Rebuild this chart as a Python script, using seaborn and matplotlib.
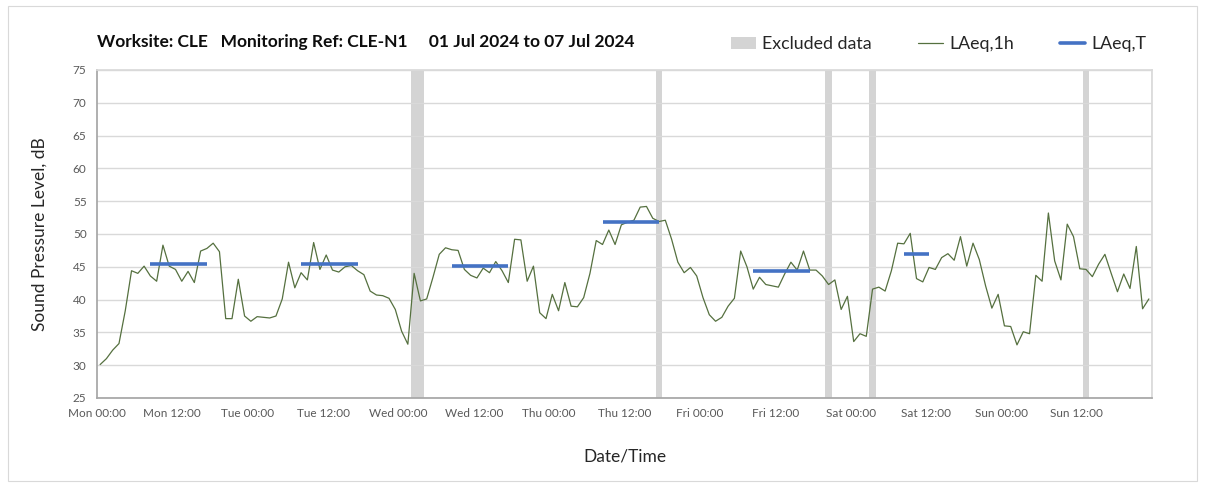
import numpy as np
import pandas as pd
import matplotlib
matplotlib.use("Agg")
import matplotlib.pyplot as plt
from matplotlib.patches import Patch, Rectangle
from matplotlib.lines import Line2D
import seaborn as sns

# Hourly LAeq,1h values (dB), Mon 01 Jul 00:00 -> Sun 07 Jul 23:00
laeq_mon = [30.1, 31.0, 32.3, 33.3, 38.3, 44.4, 44.0, 45.1, 43.6, 42.8, 48.3, 45.1,
            44.6, 42.8, 44.3, 42.6, 47.4, 47.8, 48.6, 47.3, 37.1, 37.1, 43.1, 37.5]
laeq_tue = [36.7, 37.4, 37.3, 37.2, 37.5, 40.1, 45.7, 41.8, 44.1, 43.0, 48.7, 44.6,
            46.8, 44.5, 44.2, 45.0, 45.2, 44.4, 43.8, 41.3, 40.7, 40.6, 40.2, 38.5]
laeq_wed = [35.2, 33.2, 44.0, 39.8, 40.1, 43.4, 46.9, 47.9, 47.6, 47.5, 44.6, 43.7,
            43.3, 44.8, 44.1, 45.8, 44.4, 42.6, 49.2, 49.1, 42.8, 45.1, 38.0, 37.1]
laeq_thu = [40.8, 38.3, 42.6, 39.0, 38.9, 40.3, 44.0, 49.0, 48.4, 50.6, 48.4, 51.4,
            51.8, 52.1, 54.1, 54.2, 52.4, 51.9, 52.1, 49.2, 45.7, 44.1, 44.9, 43.6]
laeq_fri = [40.3, 37.7, 36.7, 37.3, 39.0, 40.2, 47.4, 45.0, 41.6, 43.4, 42.3, 42.1,
            41.9, 43.9, 45.7, 44.5, 47.4, 44.5, 44.5, 43.6, 42.3, 43.0, 38.5, 40.5]
laeq_sat = [33.6, 34.8, 34.4, 41.6, 41.9, 41.3, 44.4, 48.6, 48.5, 50.1, 43.2, 42.7,
            44.9, 44.6, 46.4, 47.0, 46.0, 49.6, 45.1, 48.6, 46.1, 42.1, 38.7, 40.8]
laeq_sun = [36.0, 35.9, 33.1, 35.1, 34.8, 43.7, 42.8, 53.2, 45.9, 43.0, 51.5, 49.6,
            44.7, 44.6, 43.5, 45.4, 46.9, 44.0, 41.2, 43.9, 41.7, 48.1, 38.6, 40.1]

# Excluded periods (start hour from Mon 00:00, length in hours)
excl_start = [50, 89, 116, 123, 157]
excl_hours = [2, 1, 1, 1, 1]

# LAeq,T working periods (start hour, end hour, level)
per_start = [8, 32, 56, 80, 104, 128]
per_end = [18, 42, 66, 90, 114, 133]
per_level = [45.4, 45.5, 45.1, 51.9, 44.3, 46.9]

day_names = ["Mon", "Tue", "Wed", "Thu", "Fri", "Sat", "Sun"]
tick_labels = [f"{d} {h}" for d in day_names for h in ("00:00", "12:00")]

laeq = laeq_mon + laeq_tue + laeq_wed + laeq_thu + laeq_fri + laeq_sat + laeq_sun
df = pd.DataFrame({"t": np.arange(len(laeq)) + 0.5, "laeq": laeq})

sns.set_theme(style="white")
plt.rcParams["font.family"] = ["Lato", "DejaVu Sans"]

green = "#55703f"
blue = "#4472c4"
grey_band = "#d4d4d4"
grid_c = "#d9d9d9"
text_c = "#595959"

fig = plt.figure(figsize=(12.05, 4.87), dpi=100)
ax = fig.add_axes([97 / 1205, 1 - 398 / 487, (1152 - 97) / 1205, (398 - 70) / 487])

for s, n in zip(excl_start, excl_hours):
    ax.axvspan(s, s + n, color=grey_band, lw=0, zorder=0.2)

sns.lineplot(data=df, x="t", y="laeq", color=green, lw=0.9, ax=ax, zorder=3)
ax.hlines(per_level, np.array(per_start) + 0.5, np.array(per_end) - 0.5,
          color=blue, lw=2.6, zorder=4)

ax.set_xlim(0, 168)
ax.set_ylim(25, 75)
ax.set_yticks(np.arange(25, 76, 5))
ax.set_xticks(np.arange(0, 168, 12))
ax.set_xticklabels(tick_labels)
ax.set_xticks(np.arange(0, 169, 24), minor=True)
ax.grid(False)
ax.yaxis.grid(True, color=grid_c, lw=1)
ax.xaxis.grid(True, which="minor", color=grid_c, lw=1)
ax.set_axisbelow(True)
ax.tick_params(axis="both", labelsize=8.5, colors=text_c, length=4, width=0.8)
ax.tick_params(axis="x", which="minor", length=0)
for side in ("left", "bottom"):
    ax.spines[side].set_color("#a6a6a6")
for side in ("top", "right"):
    ax.spines[side].set_color(grid_c)

ax.set_xlabel("Date/Time", fontsize=12.5, color="#262626", labelpad=21)
ax.set_ylabel("Sound Pressure Level, dB", fontsize=12.5, color="#262626", labelpad=18)

fig.text(97 / 1205, 1 - 42 / 487,
         "Worksite: CLE   Monitoring Ref: CLE-N1     01 Jul 2024 to 07 Jul 2024",
         fontsize=12.5, fontweight="bold", color="#0d0d0d", va="center")

handles = [Patch(facecolor=grey_band, edgecolor="none"),
           Line2D([], [], color=green, lw=0.9),
           Line2D([], [], color=blue, lw=2.6)]
fig.legend(handles, ["Excluded data", "LAeq,1h", "LAeq,T"], loc="center right",
           bbox_to_anchor=(1146 / 1205, 1 - 44 / 487), ncol=3, frameon=False,
           fontsize=12.8, handlelength=1.4, columnspacing=2.6, handletextpad=0.35,
           borderpad=0, borderaxespad=0, labelcolor="#262626")

fig.patches.append(Rectangle((8 / 1205, 6 / 487), 1189 / 1205, 475 / 487,
                             transform=fig.transFigure, fill=False,
                             edgecolor="#d9d9d9", lw=0.8))

fig.savefig("out.png", dpi=100)
